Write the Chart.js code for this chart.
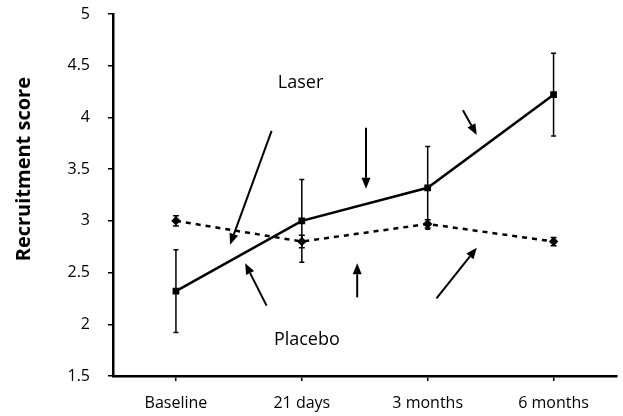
<!DOCTYPE html>
<html>
<head>
<meta charset="utf-8">
<script src="https://cdn.jsdelivr.net/npm/chart.js@4"></script>
<style>
  body { margin: 0; background: #fff; }
  #wrap { width: 623px; height: 416px; position: relative; }
</style>
</head>
<body>
<div id="wrap"><canvas id="recruitChart"></canvas></div>
<script>
const categories = ['Baseline', '21 days', '3 months', '6 months'];
const laserMean = [2.32, 3.0, 3.32, 4.22];
const laserErr = [0.4, 0.4, 0.4, 0.4];
const placeboMean = [3.0, 2.8, 2.97, 2.8];
const placeboErr = [0.05, 0.06, 0.04, 0.04];
const yTicks = [1.5, 2, 2.5, 3, 3.5, 4, 4.5, 5];
const yTitle = 'Recruitment score';

// annotation arrows in data units: [fromIndex, fromValue, toIndex, toValue]
const arrows = [
    [0.76, 3.87, 0.43, 2.77],
    [0.72, 2.18, 0.55, 2.59],
    [1.51, 3.90, 1.51, 3.31],
    [2.28, 4.07, 2.39, 3.83],
    [1.44, 2.26, 1.44, 2.59],
    [2.07, 2.25, 2.39, 2.74]
];
const notes = [
    { text: 'Laser', x: 0.99, y: 4.33 },
    { text: 'Placebo', x: 1.04, y: 1.85 }
];

const FONT = '"Open Sans", Lato, sans-serif';

const errorBars = {
    id: 'errorBars',
    afterDatasetsDraw(chart) {
        const ctx = chart.ctx;
        const xs = chart.scales.x, ys = chart.scales.y;
        const sets = [[laserMean, laserErr, 5], [placeboMean, placeboErr, 6]];
        ctx.save();
        ctx.strokeStyle = '#000';
        ctx.lineWidth = 1.5;
        sets.forEach(([mean, err, cap]) => {
            mean.forEach((m, i) => {
                const x = xs.getPixelForValue(i);
                const top = ys.getPixelForValue(m + err[i]);
                const bot = ys.getPixelForValue(m - err[i]);
                ctx.beginPath();
                ctx.moveTo(x, top); ctx.lineTo(x, bot);
                ctx.moveTo(x - cap / 2, top); ctx.lineTo(x + cap / 2, top);
                ctx.moveTo(x - cap / 2, bot); ctx.lineTo(x + cap / 2, bot);
                ctx.stroke();
            });
        });
        ctx.restore();
    }
};

const annotations = {
    id: 'annotations',
    afterDatasetsDraw(chart) {
        const ctx = chart.ctx;
        const xs = chart.scales.x, ys = chart.scales.y;
        ctx.save();
        ctx.strokeStyle = '#000';
        ctx.fillStyle = '#000';
        ctx.lineWidth = 2;
        arrows.forEach(a => {
            const x1 = xs.getPixelForValue(a[0]), y1 = ys.getPixelForValue(a[1]);
            const x2 = xs.getPixelForValue(a[2]), y2 = ys.getPixelForValue(a[3]);
            const ang = Math.atan2(y2 - y1, x2 - x1);
            const len = 11, half = 4.5;
            const bx = x2 - len * Math.cos(ang), by = y2 - len * Math.sin(ang);
            ctx.beginPath();
            ctx.moveTo(x1, y1); ctx.lineTo(bx, by);
            ctx.stroke();
            ctx.beginPath();
            ctx.moveTo(x2, y2);
            ctx.lineTo(bx + half * Math.sin(ang), by - half * Math.cos(ang));
            ctx.lineTo(bx - half * Math.sin(ang), by + half * Math.cos(ang));
            ctx.closePath();
            ctx.fill();
        });
        ctx.font = '18px ' + FONT;
        ctx.textAlign = 'center';
        ctx.textBaseline = 'middle';
        notes.forEach(n => {
            ctx.fillText(n.text, xs.getPixelForValue(n.x), ys.getPixelForValue(n.y));
        });

        // y axis title, sits a bit above the middle like the original
        ctx.translate(24, ys.getPixelForValue(3.5));
        ctx.rotate(-Math.PI / 2);
        ctx.font = 'bold 20px ' + FONT;
        ctx.fillText(yTitle, 0, 0);
        ctx.restore();
    }
};

new Chart(document.getElementById('recruitChart'), {
    type: 'line',
    data: {
        labels: categories,
        datasets: [{
            label: 'Laser',
            data: laserMean,
            borderColor: '#000',
            backgroundColor: '#000',
            borderWidth: 2.5,
            pointStyle: 'rect',
            pointRadius: 3,
            tension: 0
        }, {
            label: 'Placebo',
            data: placeboMean,
            borderColor: '#000',
            backgroundColor: '#000',
            borderWidth: 2.5,
            borderDash: [5, 5],
            pointStyle: 'rectRot',
            pointRadius: 3,
            tension: 0
        }]
    },
    options: {
        responsive: true,
        maintainAspectRatio: false,
        animation: false,
        layout: { padding: { left: 0, right: 6, top: 14, bottom: 0 } },
        plugins: { legend: { display: false }, tooltip: { enabled: false } },
        scales: {
            x: {
                offset: true,
                grid: { drawOnChartArea: false, color: '#000', tickLength: 5, lineWidth: 1.5 },
                border: { color: '#000', width: 2.5 },
                ticks: { color: '#000', font: { family: FONT, size: 16 }, padding: 13, maxRotation: 0 },
                afterFit(scale) { scale.height = 40; }
            },
            y: {
                min: 1.5,
                max: 5,
                afterBuildTicks(scale) { scale.ticks = yTicks.map(v => ({ value: v })); },
                grid: { drawOnChartArea: false, color: '#000', tickLength: 5, lineWidth: 1.5 },
                border: { color: '#000', width: 2.5 },
                ticks: { color: '#000', font: { family: FONT, size: 16 }, padding: 18, callback: v => String(v) },
                afterFit(scale) {
                    scale.width = 113;
                    scale.paddingTop = 0;
                    scale.paddingBottom = 0;
                }
            }
        }
    },
    plugins: [errorBars, annotations]
});
</script>
</body>
</html>
